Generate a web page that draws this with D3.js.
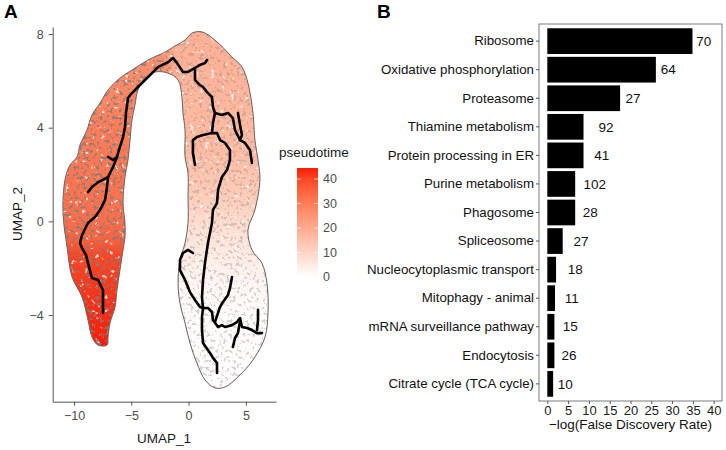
<!DOCTYPE html>
<html>
<head>
<meta charset="utf-8">
<script src="https://cdn.jsdelivr.net/npm/d3@7"></script>
<style>
  body { margin: 0; background: #fff; }
  text { font-family: "Liberation Sans", Arial, sans-serif; }
</style>
</head>
<body>
<svg id="chart" width="726" height="450"></svg>
<script>
// ---- panel A: UMAP cloud outline, trajectory graph, pseudotime along each arm
const cloudOutline = [
  [-7.91, -5.28], [-8.43, -4.94], [-8.78, -4.21], [-9.30, -3.23], [-10.17, -2.38],
  [-10.61, -1.09], [-10.96, 0.36], [-10.79, 1.77], [-10.35, 2.41], [-9.74, 2.75],
  [-9.48, 3.26], [-8.87, 3.90], [-8.43, 4.54], [-7.73, 5.05], [-7.03, 5.61],
  [-5.99, 6.12], [-4.94, 6.46], [-3.54, 6.89], [-2.06, 7.23], [-1.19, 7.49],
  [-0.31, 7.74], [0.30, 8.04], [1.17, 8.09], [2.30, 7.74], [3.79, 7.02],
  [4.66, 6.59], [5.18, 5.91], [5.62, 4.63], [5.79, 3.47], [6.06, 2.62],
  [6.23, 1.77], [5.79, 0.49], [5.18, -0.37], [5.53, -1.22], [6.40, -1.78],
  [6.84, -2.63], [6.93, -3.91], [6.67, -4.94], [5.79, -5.79], [4.66, -6.47],
  [3.18, -7.07], [2.30, -7.11], [1.43, -6.77], [0.73, -6.05], [0.12, -5.19],
  [-0.31, -4.34], [-0.75, -3.49], [-0.92, -2.63], [-0.75, -1.65], [-0.31, -0.92],
  [-0.05, -0.07], [-0.05, 1.04], [-0.05, 2.06], [-0.31, 2.75], [-0.31, 3.90],
  [-0.49, 4.63], [-0.58, 5.31], [-0.92, 6.04], [-1.80, 6.33], [-2.93, 6.38],
  [-3.80, 6.12], [-4.42, 5.61], [-4.68, 4.97], [-4.94, 4.33], [-5.11, 3.47],
  [-5.29, 2.62], [-5.55, 1.89], [-5.72, 0.78], [-5.55, -0.07], [-5.55, -0.67],
  [-5.72, -1.22], [-5.99, -2.08], [-6.25, -2.93], [-6.42, -3.66], [-6.86, -4.34],
  [-7.03, -4.94], [-7.12, -5.28]
];

const trajectories = [
  // left arm up over the arch
  [[-7.47, -3.91], [-7.47, -2.93], [-7.91, -2.50], [-8.43, -2.42], [-8.78, -1.78],
   [-8.95, -1.44], [-9.30, -1.14], [-9.48, -0.92], [-9.30, -0.58], [-8.78, -0.07],
   [-8.17, 0.19], [-7.73, 0.49], [-7.29, 0.91], [-7.12, 1.47], [-7.03, 1.89],
   [-6.60, 2.32], [-6.25, 2.75], [-5.99, 3.18], [-5.72, 3.60], [-5.55, 4.03],
   [-5.46, 4.63], [-5.29, 5.27], [-4.94, 5.48], [-4.42, 5.74], [-3.54, 6.16],
   [-2.67, 6.59], [-1.80, 6.80], [-1.36, 6.98], [-1.01, 6.76], [-0.49, 6.38],
   [-0.05, 6.38], [0.56, 6.55], [0.99, 6.68], [1.43, 6.76], [1.61, 6.89]],
  [[-8.78, 1.25], [-8.43, 1.47], [-7.99, 1.64], [-7.03, 1.89]],
  [[-6.25, 2.75], [-6.60, 2.62], [-7.03, 2.75]],
  // right arm main
  [[0.56, 6.55], [0.56, 6.04], [0.99, 5.82], [1.26, 5.74], [1.61, 5.52], [2.04, 5.31],
   [2.13, 4.88], [2.30, 4.63], [2.13, 4.20], [2.04, 3.77], [2.48, 3.77], [2.74, 3.47],
   [3.18, 3.35], [3.61, 3.05], [3.61, 2.62], [3.35, 2.19], [2.91, 1.89], [2.57, 1.34],
   [2.48, 0.78], [2.13, 0.49], [2.04, -0.07], [1.69, -0.92], [1.43, -1.78], [1.26, -2.50],
   [1.17, -3.23], [1.26, -3.70], [1.17, -4.08], [1.17, -4.64], [1.26, -5.19], [1.87, -5.62],
   [2.13, -5.83], [2.48, -6.05], [2.48, -6.47]],
  [[2.04, 3.77], [1.26, 3.69], [0.73, 3.60], [0.38, 3.47], [0.38, 2.92], [0.56, 2.41]],
  [[2.30, 4.63], [2.91, 4.54], [3.44, 4.63], [3.87, 4.41], [4.05, 3.90], [4.49, 3.47],
   [4.92, 3.35], [5.36, 3.05], [5.53, 2.49]],
  [[4.31, 4.63], [4.49, 4.11], [4.66, 3.69], [4.49, 3.47]],
  [[0.38, -1.35], [-0.05, -1.22], [-0.49, -1.35], [-0.75, -1.65], [-0.75, -2.08],
   [-0.31, -2.50], [0.12, -3.02], [0.56, -3.36], [0.99, -3.66], [1.26, -3.70]],
  [[1.26, -3.70], [1.69, -3.70], [2.04, -3.87], [2.13, -4.21], [2.57, -4.51], [2.91, -4.43],
   [3.18, -4.51], [3.79, -4.43], [4.22, -4.30], [4.49, -4.13], [4.66, -4.51], [5.10, -4.55],
   [5.53, -4.64], [5.97, -4.77], [6.40, -4.77]],
  [[5.97, -4.64], [6.06, -4.21], [6.06, -3.78]],
  [[4.49, -4.25], [4.31, -4.77], [4.05, -4.98], [3.87, -5.36]],
  [[2.30, -4.30], [2.74, -3.66], [3.00, -3.44], [3.44, -3.14], [3.61, -2.85], [3.79, -2.38]]
];

const leftArmY = [7.6, 4, 0, -0.7, -1.4, -5.3];
const leftArmT = [25, 30, 33, 35, 40, 44.5];
const rightArmY = [8.1, 3, 1, -0.5, -2, -3.5, -7.2];
const rightArmT = [19, 16, 12, 7, 3.5, 1, 0];

const umapXTicks = [-10, -5, 0, 5];
const umapYTicks = [-4, 0, 4, 8];
const legendTicks = [0, 10, 20, 30, 40];

// ---- panel B: KEGG enrichment
const pathways = ["Ribosome", "Oxidative phosphorylation", "Proteasome", "Thiamine metabolism",
  "Protein processing in ER", "Purine metabolism", "Phagosome", "Spliceosome",
  "Nucleocytoplasmic transport", "Mitophagy - animal", "mRNA surveillance pathway",
  "Endocytosis", "Citrate cycle (TCA cycle)"];
const negLogFdr = [34.9, 26.1, 17.5, 8.7, 8.7, 6.7, 6.7, 3.7, 2.1, 1.85, 1.7, 1.7, 1.4];
const geneCounts = [70, 64, 27, 92, 41, 102, 28, 27, 18, 11, 15, 26, 10];
const countLabelX = [37.6, 29.1, 20.6, 14.1, 13.1, 11.4, 10.3, 8.1, 6.7, 5.9, 5.5, 5.2, 4.3];
const fdrTicks = [0, 5, 10, 15, 20, 25, 30, 35, 40];

const svg = d3.select("#chart");
svg.append("rect").attr("width", 726).attr("height", 450).attr("fill", "#fff");
const defs = svg.append("defs");

// ===== panel A =====
const x = d3.scaleLinear().domain([-11.86, 7.63]).range([52.7, 276]);
const y = d3.scaleLinear().domain([8.3, -7.7]).range([27, 401.7]);
const colour = d3.scaleLinear().domain([0, 44.5]).range(["#ffffff", "#fb1c06"]).interpolate(d3.interpolateLab);

function armGradient(id, ys, ts) {
  const y0 = y(ys[0]), y1 = y(ys[ys.length - 1]);
  const g = defs.append("linearGradient").attr("id", id).attr("gradientUnits", "userSpaceOnUse")
    .attr("x1", 0).attr("x2", 0).attr("y1", y0).attr("y2", y1);
  ys.forEach((v, i) => g.append("stop").attr("offset", (y(v) - y0) / (y1 - y0)).attr("stop-color", colour(ts[i])));
}
armGradient("leftArm", leftArmY, leftArmT);
armGradient("rightArm", rightArmY, rightArmT);

// soft blend where the two arms meet at the arch
function blendMask(id, from, to) {
  const g = defs.append("linearGradient").attr("id", id + "Grad").attr("gradientUnits", "userSpaceOnUse")
    .attr("x1", x(-2.2)).attr("x2", x(-0.9)).attr("y1", 0).attr("y2", 0);
  g.append("stop").attr("offset", 0).attr("stop-color", from);
  g.append("stop").attr("offset", 1).attr("stop-color", to);
  defs.append("mask").attr("id", id).attr("maskUnits", "userSpaceOnUse")
    .attr("x", 0).attr("y", 0).attr("width", 726).attr("height", 450)
    .append("rect").attr("width", 726).attr("height", 450).attr("fill", `url(#${id}Grad)`);
}
blendMask("rightMask", "#000", "#fff");
blendMask("leftMask", "#fff", "#000");

const outline = d3.line().x(d => x(d[0])).y(d => y(d[1])).curve(d3.curveCatmullRomClosed.alpha(0.5));
defs.append("clipPath").attr("id", "cloudClip").append("path").attr("d", outline(cloudOutline));

// cell-outline grain: dark rings and a few white gaps
const grain = defs.append("filter").attr("id", "grain").attr("x", 0).attr("y", 0).attr("width", 1).attr("height", 1);
grain.append("feTurbulence").attr("type", "fractalNoise").attr("baseFrequency", 0.3).attr("numOctaves", 2).attr("seed", 7);
grain.append("feColorMatrix").attr("type", "matrix")
  .attr("values", "0 0 0 0 0.22  0 0 0 0 0.2  0 0 0 0 0.2  -11 0 0 0 4.75");
const holes = defs.append("filter").attr("id", "holes").attr("x", 0).attr("y", 0).attr("width", 1).attr("height", 1);
holes.append("feTurbulence").attr("type", "fractalNoise").attr("baseFrequency", 0.2).attr("numOctaves", 2).attr("seed", 3);
holes.append("feColorMatrix").attr("type", "matrix")
  .attr("values", "0 0 0 0 1  0 0 0 0 1  0 0 0 0 1  12 0 0 0 -8.0");

const plotW = x.range()[1] - x.range()[0], plotH = y.range()[1] - y.range()[0];
const cloud = svg.append("g").attr("clip-path", "url(#cloudClip)");
const fullRect = g => g.attr("x", x.range()[0]).attr("y", y.range()[0]).attr("width", plotW).attr("height", plotH);
cloud.append("rect").call(fullRect).attr("fill", "url(#leftArm)");
cloud.append("rect").call(fullRect).attr("fill", "url(#rightArm)").attr("mask", "url(#rightMask)");
cloud.append("rect").call(fullRect).attr("filter", "url(#holes)").attr("opacity", 0.7);
cloud.append("g").attr("mask", "url(#leftMask)")
  .append("rect").call(fullRect).attr("filter", "url(#grain)").attr("opacity", 0.85);
cloud.append("g").attr("mask", "url(#rightMask)")
  .append("rect").call(fullRect).attr("filter", "url(#grain)").attr("opacity", 0.32);

svg.append("path").attr("d", outline(cloudOutline)).attr("fill", "none")
  .attr("stroke", "#666").attr("stroke-width", 1);

const traj = d3.line().x(d => x(d[0])).y(d => y(d[1]));
svg.append("g").selectAll("path").data(trajectories).join("path")
  .attr("d", traj).attr("fill", "none").attr("stroke", "#000")
  .attr("stroke-width", 2.6).attr("stroke-linejoin", "round").attr("stroke-linecap", "round");

function styleAxis(g, size) {
  g.attr("font-family", null).attr("font-size", null);
  g.selectAll("text").attr("font-size", size).attr("fill", "#4d4d4d");
  g.selectAll("line").attr("stroke", "#555");
  g.select(".domain").attr("stroke", "#555");
}

svg.append("g").attr("transform", `translate(0,${y.range()[1]})`)
  .call(d3.axisBottom(x).tickValues(umapXTicks).tickSize(4).tickSizeOuter(0).tickPadding(5))
  .call(g => styleAxis(g, 12.5));
svg.append("g").attr("transform", `translate(${x.range()[0]},0)`)
  .call(d3.axisLeft(y).tickValues(umapYTicks).tickSize(4).tickSizeOuter(0).tickPadding(5))
  .call(g => styleAxis(g, 12.5));

svg.append("text").attr("x", 164).attr("y", 443).attr("text-anchor", "middle")
  .attr("font-size", 13.5).attr("fill", "#1a1a1a").text("UMAP_1");
svg.append("text").attr("transform", "translate(22,214) rotate(-90)").attr("text-anchor", "middle")
  .attr("font-size", 13.5).attr("fill", "#1a1a1a").text("UMAP_2");

// legend
const ly = d3.scaleLinear().domain([0, 44.5]).range([277, 168]);
const lg = defs.append("linearGradient").attr("id", "legendGrad").attr("x1", 0).attr("x2", 0).attr("y1", 1).attr("y2", 0);
d3.range(0, 1.001, 0.1).forEach(f => lg.append("stop").attr("offset", f).attr("stop-color", colour(f * 44.5)));
svg.append("rect").attr("x", 297).attr("y", ly(44.5)).attr("width", 21).attr("height", ly(0) - ly(44.5))
  .attr("fill", "url(#legendGrad)");
const lt = svg.append("g").selectAll("g").data(legendTicks).join("g");
lt.append("line").attr("x1", 297).attr("x2", 301).attr("y1", d => ly(d)).attr("y2", d => ly(d))
  .attr("stroke", "#fff").attr("stroke-width", 0.8).attr("opacity", 0.8);
lt.append("line").attr("x1", 314).attr("x2", 318).attr("y1", d => ly(d)).attr("y2", d => ly(d))
  .attr("stroke", "#fff").attr("stroke-width", 0.8).attr("opacity", 0.8);
lt.append("text").attr("x", 323).attr("y", d => ly(d)).attr("dy", "0.35em")
  .attr("font-size", 12.5).attr("fill", "#4d4d4d").text(d => d);
svg.append("text").attr("x", 279).attr("y", 157).attr("font-size", 13.5).attr("fill", "#1a1a1a").text("pseudotime");

svg.append("text").attr("x", 4).attr("y", 18).attr("font-size", 19).attr("font-weight", "bold").text("A");

// ===== panel B =====
const bx = d3.scaleLinear().domain([-2, 42]).range([539, 722]);
const by = d3.scaleBand().domain(pathways).range([24, 401]).paddingInner(0.1).paddingOuter(0.15);

svg.append("g").selectAll("rect").data(pathways).join("rect")
  .attr("x", bx(0)).attr("y", d => by(d))
  .attr("width", (d, i) => bx(negLogFdr[i]) - bx(0)).attr("height", by.bandwidth())
  .attr("fill", "#000");

svg.append("g").selectAll("text").data(pathways).join("text")
  .attr("x", (d, i) => bx(countLabelX[i])).attr("y", d => by(d) + by.bandwidth() / 2)
  .attr("dy", "0.35em").attr("text-anchor", "middle").attr("font-size", 13.5).attr("fill", "#111")
  .text((d, i) => geneCounts[i]);

svg.append("rect").attr("x", 539).attr("y", 24).attr("width", 183).attr("height", 377)
  .attr("fill", "none").attr("stroke", "#7a7a7a").attr("stroke-width", 1);

svg.append("g").attr("transform", "translate(539,0)")
  .call(d3.axisLeft(by).tickSize(3).tickSizeOuter(0).tickPadding(2))
  .call(g => { styleAxis(g, 13.3); g.select(".domain").remove(); g.selectAll("text").attr("fill", "#111"); });
svg.append("g").attr("transform", "translate(0,401)")
  .call(d3.axisBottom(bx).tickValues(fdrTicks).tickSize(3).tickSizeOuter(0).tickPadding(2))
  .call(g => { styleAxis(g, 13); g.select(".domain").remove(); g.selectAll("text").attr("fill", "#222"); });

svg.append("text").attr("x", 630.5).attr("y", 429).attr("text-anchor", "middle")
  .attr("font-size", 13.5).attr("fill", "#111").text("\u2212log(False Discovery Rate)");

svg.append("text").attr("x", 377).attr("y", 18).attr("font-size", 19).attr("font-weight", "bold").text("B");
</script>
</body>
</html>
